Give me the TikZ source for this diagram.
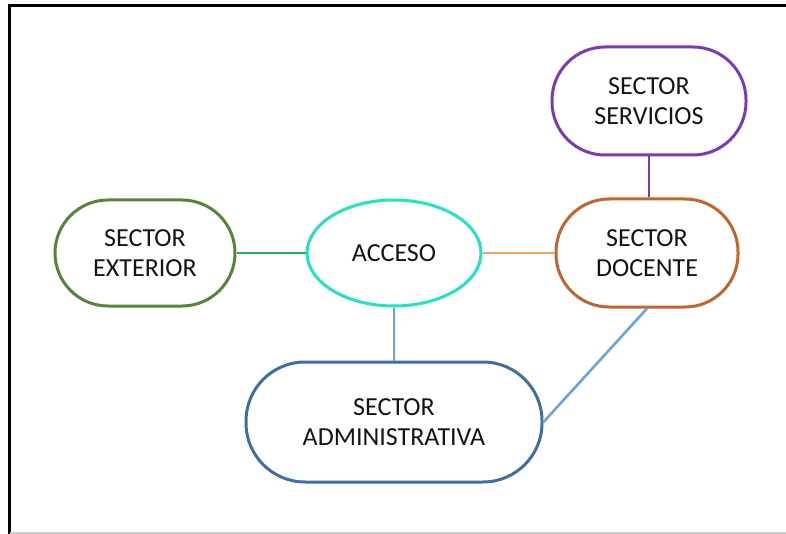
\documentclass[tikz,border=0pt]{standalone}
\usepackage{fontspec}
\setmainfont{Carlito}
\usetikzlibrary{shapes.geometric}
\definecolor{cExt}{HTML}{558537}
\definecolor{cAcc}{HTML}{22E3C3}
\definecolor{cDoc}{HTML}{C0652B}
\definecolor{cSer}{HTML}{7B3BB8}
\definecolor{cAdm}{HTML}{3E6FA3}
\definecolor{lGreen}{HTML}{25B050}
\definecolor{lOrange}{HTML}{F4A262}
\definecolor{lBlue}{HTML}{6AA4DF}
\definecolor{txt}{HTML}{141414}
\begin{document}
\begin{tikzpicture}[x=0.5pt,y=-0.5pt,
  lbl/.style={font=\fontsize{13}{15}\selectfont, text=txt, align=center, inner sep=0pt},
  stadium/.style={lbl, draw, line width=1.5pt, fill=white, rectangle, rounded corners=26.5pt},
  oval/.style={lbl, draw, line width=1.5pt, fill=white, ellipse, inner sep=0pt},
  conn/.style={line width=1.3pt}]
\useasboundingbox (0,0) rectangle (786,534);
\fill[white] (0,0) rectangle (786,534);
\draw[line width=1.5pt, black] (9.5,534) -- (9.5,6) -- (786,6);
\draw[line width=0.8pt, black!20] (9.5,533) -- (786,533);

\node[stadium, draw=cExt, minimum width=90pt, minimum height=53pt] (ext) at (145,253) {SECTOR\\EXTERIOR};
\node[oval, draw=cAcc, minimum width=87pt, minimum height=53pt] (acc) at (394,253) {ACCESO};
\node[stadium, draw=cDoc, minimum width=91pt, minimum height=54pt] (doc) at (647,253) {SECTOR\\DOCENTE};
\node[stadium, draw=cSer, minimum width=97pt, minimum height=54pt] (ser) at (649,101) {SECTOR\\SERVICIOS};
\node[stadium, draw=cAdm, minimum width=148pt, minimum height=60pt, rounded corners=29.5pt] (adm) at (394,422) {SECTOR\\ADMINISTRATIVA};

\draw[conn, lGreen] (ext.east) -- (acc.west);
\draw[conn, lOrange] (acc.east) -- (doc.west);
\draw[conn, cSer] (ser.south) -- (ser.south |- doc.north);
\draw[conn, lBlue] (acc.south) -- (adm.north);
\draw[conn, lBlue] (doc.south) -- (adm.east);
\end{tikzpicture}
\end{document}
